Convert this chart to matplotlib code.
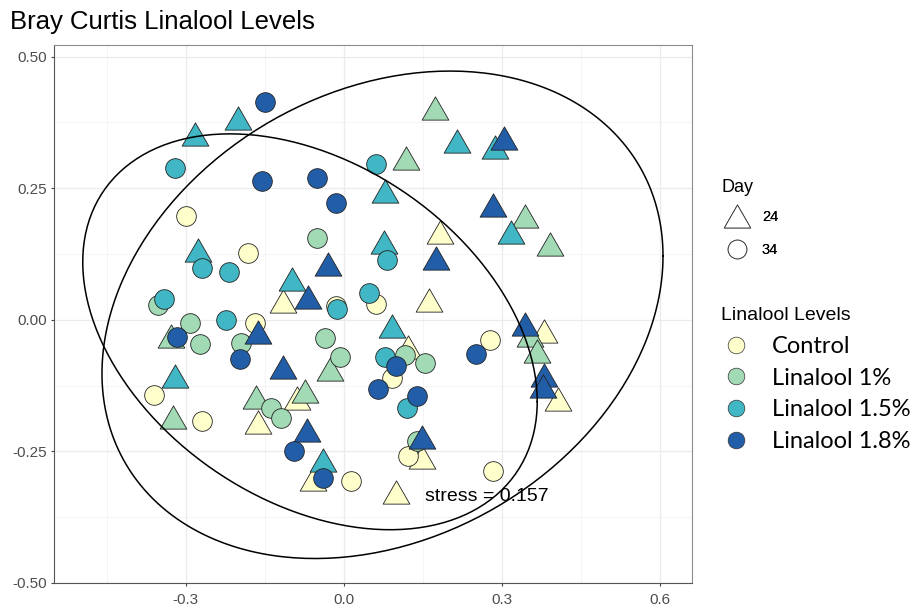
import numpy as np
import matplotlib
matplotlib.use("Agg")
import matplotlib.pyplot as plt
from matplotlib.lines import Line2D
from matplotlib.path import Path
from matplotlib.ticker import MultipleLocator

plt.rcParams['font.family'] = ['Liberation Sans', 'DejaVu Sans']

levels = ['Control', 'Linalool 1%', 'Linalool 1.5%', 'Linalool 1.8%']
level_colors = ['#FFFFCC', '#A1DAB4', '#41B6C4', '#225EA8']
days = ['24', '34']

# NMDS coordinates (day 24 = triangles, day 34 = circles)
ctrl24_x = [-0.116, -0.163, -0.089, -0.059, 0.099, 0.161, 0.182, 0.121, 0.148, 0.380, 0.406]
ctrl24_y = [0.036, -0.195, -0.148, -0.302, -0.328, 0.038, 0.167, -0.051, -0.260, -0.021, -0.150]
ctrl34_x = [-0.300, -0.182, -0.361, -0.269, -0.169, -0.015, 0.061, 0.091, 0.121, 0.013, 0.277, 0.283]
ctrl34_y = [0.197, 0.127, -0.142, -0.192, -0.006, 0.027, 0.030, -0.110, -0.258, -0.307, -0.038, -0.288]

lin1_24_x = [-0.328, -0.324, -0.167, -0.074, -0.027, 0.173, 0.118, 0.343, 0.391, 0.353, 0.366]
lin1_24_y = [-0.030, -0.184, -0.146, -0.135, -0.093, 0.402, 0.307, 0.197, 0.144, -0.028, -0.059]
lin1_34_x = [-0.353, -0.292, -0.273, -0.195, -0.139, -0.120, -0.051, -0.036, -0.008, 0.116, 0.154, 0.139]
lin1_34_y = [0.028, -0.006, -0.046, -0.044, -0.167, -0.186, 0.156, -0.034, -0.070, -0.066, -0.082, -0.231]

lin15_24_x = [-0.283, -0.201, -0.277, -0.321, -0.099, -0.040, 0.078, 0.076, 0.091, 0.214, 0.287, 0.317]
lin15_24_y = [0.353, 0.383, 0.133, -0.106, 0.078, -0.266, 0.245, 0.148, -0.011, 0.340, 0.328, 0.167]
lin15_34_x = [-0.321, -0.342, -0.269, -0.218, -0.224, -0.013, 0.061, 0.082, 0.047, 0.078, 0.120]
lin15_34_y = [0.288, 0.040, 0.099, 0.091, 0.000, 0.021, 0.296, 0.114, 0.051, -0.070, -0.167]

lin18_24_x = [-0.163, -0.116, -0.070, -0.068, -0.030, 0.175, 0.283, 0.304, 0.343, 0.380, 0.378, 0.148]
lin18_24_y = [-0.023, -0.089, -0.209, 0.044, 0.106, 0.118, 0.218, 0.345, -0.008, -0.104, -0.125, -0.222]
lin18_34_x = [-0.150, -0.156, -0.051, -0.015, -0.317, -0.197, -0.095, -0.040, 0.065, 0.099, 0.139, 0.250]
lin18_34_y = [0.414, 0.264, 0.269, 0.222, -0.032, -0.074, -0.249, -0.300, -0.131, -0.087, -0.144, -0.065]

# ellipses per day: centre and shape matrix
ell24_center = [0.073, 0.0095]
ell24_shape = [[0.532 ** 2, 0.0593], [0.0593, 0.463 ** 2]]
ell34_center = [-0.0645, -0.0228]
ell34_shape = [[0.431 ** 2, -0.0571], [-0.0571, 0.376 ** 2]]

stress = 0.157

groups = [
    (ctrl24_x, ctrl24_y, ctrl34_x, ctrl34_y),
    (lin1_24_x, lin1_24_y, lin1_34_x, lin1_34_y),
    (lin15_24_x, lin15_24_y, lin15_34_x, lin15_34_y),
    (lin18_24_x, lin18_24_y, lin18_34_x, lin18_34_y),
]

# slightly flattened triangle, like ggplot shape 24
tri = Path([(0, 0.87), (-1, -0.87), (1, -0.87), (0, 0.87)],
           [Path.MOVETO, Path.LINETO, Path.LINETO, Path.CLOSEPOLY])

fig = plt.figure(figsize=(9.12, 6.07), dpi=100)
ax = fig.add_axes([54 / 912, 1 - 583 / 607, 638 / 912, 538 / 607])

for i, (x24, y24, x34, y34) in enumerate(groups):
    ax.scatter(x24, y24, marker=tri, s=370, c=level_colors[i], edgecolors='#222222',
               linewidths=0.6, zorder=3 + i)
    ax.scatter(x34, y34, marker='o', s=200, c=level_colors[i], edgecolors='#222222',
               linewidths=0.6, zorder=3 + i)

t = np.linspace(0, 2 * np.pi, 300)
for c, S in [(ell24_center, ell24_shape), (ell34_center, ell34_shape)]:
    L = np.linalg.cholesky(np.array(S))
    pts = L @ np.vstack([np.cos(t), np.sin(t)])
    ax.plot(pts[0] + c[0], pts[1] + c[1], color='black', lw=1.1, zorder=10)

ax.text(0.154, -0.336, 'stress = ' + str(stress), fontsize=14, ha='left', va='center', zorder=11)

ax.set_xlim(-0.550, 0.660)
ax.set_ylim(-0.5, 0.522)
ax.xaxis.set_minor_locator(MultipleLocator(0.15))
ax.yaxis.set_minor_locator(MultipleLocator(0.125))
ax.set_xticks([-0.3, 0.0, 0.3, 0.6])
ax.set_xticklabels(['-0.3', '0.0', '0.3', '0.6'])
ax.set_yticks([-0.5, -0.25, 0.0, 0.25, 0.5])
ax.set_yticklabels(['-0.50', '-0.25', '0.00', '0.25', '0.50'])
ax.grid(True, which='major', color='#EBEBEB', lw=0.9)
ax.grid(True, which='minor', color='#F3F3F3', lw=0.6)
ax.set_axisbelow(True)
ax.tick_params(which='major', length=2.5, color='#444444', labelsize=11, labelcolor='#4D4D4D', pad=2.5)
ax.tick_params(axis='x', which='major', pad=5)
ax.tick_params(which='minor', length=0)
for side in ['top', 'right']:
    ax.spines[side].set_color('#8C8C8C')
for side in ['left', 'bottom']:
    ax.spines[side].set_color('#555555')

fig.text(10 / 912, 1 - 22 / 607, 'Bray Curtis Linalool Levels', fontsize=18.5, va='center', ha='left')

# legend: Day (shape)
fig.text(722 / 912, 1 - 187 / 607, 'Day', fontsize=13, va='center', ha='left')
day_handles = [
    Line2D([], [], ls='none', marker=tri, ms=19, mfc='white', mec='#333333', mew=0.6),
    Line2D([], [], ls='none', marker='o', ms=13.5, mfc='white', mec='#333333', mew=0.6),
]
leg1 = fig.legend(day_handles, days, loc='upper left',
                  bbox_to_anchor=(722 / 912, 1 - 210 / 607), frameon=False,
                  fontsize=10.5, handlelength=2.05, handletextpad=0.68,
                  labelspacing=1.3, borderpad=0, borderaxespad=0)

# legend: Linalool levels (fill)
fig.text(721 / 912, 1 - 315 / 607, 'Linalool Levels', fontsize=14, va='center', ha='left')
lvl_handles = [Line2D([], [], ls='none', marker='o', ms=12, mfc=col, mec='#333333', mew=0.5)
               for col in level_colors]
leg2 = fig.legend(lvl_handles, levels, loc='upper left',
                  bbox_to_anchor=(722 / 912, 1 - 336 / 607), frameon=False,
                  prop={'family': ['Lato', 'DejaVu Sans'], 'size': 17},
                  handlelength=1.19, handletextpad=0.93, labelspacing=0.45,
                  borderpad=0, borderaxespad=0)
fig.add_artist(leg1)

fig.savefig('out.png', dpi=100)
